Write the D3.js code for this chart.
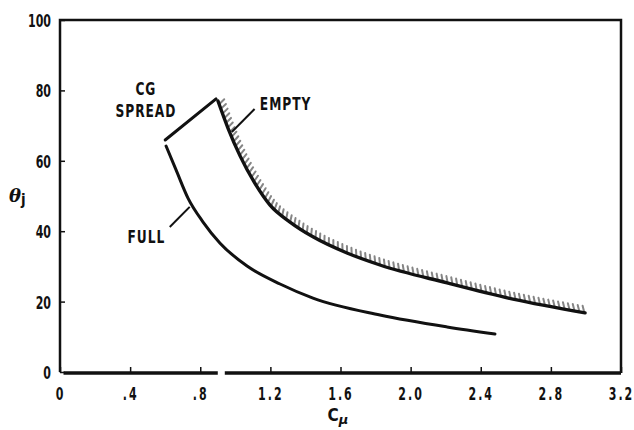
<!DOCTYPE html>
<html>
<head>
<meta charset="utf-8">
<script src="https://cdn.jsdelivr.net/npm/d3@7"></script>
<style>
  body { margin: 0; background: #fff; }
  text { font-family: "DejaVu Sans Condensed", "DejaVu Sans", sans-serif; font-weight: bold; fill: #111; }
</style>
</head>
<body>
<div id="chart"></div>
<script>
// values (C_mu vs theta_j)
const fullCmu   = [0.605, 0.662, 0.730, 0.816, 0.913, 1.067, 1.255, 1.443, 1.825, 2.208, 2.481];
const fullTheta = [64.2, 57.4, 49.4, 42.6, 36.6, 30.1, 25.0, 21.0, 16.2, 12.8, 10.8];

const emptyCmu   = [0.901, 0.958, 1.027, 1.107, 1.198, 1.312, 1.443, 1.637, 1.825, 2.208, 2.584, 2.995];
const emptyTheta = [77.0, 69.3, 61.4, 54.0, 47.4, 42.6, 38.4, 33.8, 30.4, 25.3, 20.7, 16.8];

const cgCmu   = [0.60, 0.89];
const cgTheta = [65.9, 77.6];

const xTicks = [0, 0.4, 0.8, 1.2, 1.6, 2.0, 2.4, 2.8, 3.2];
const xTickLabels = ["0", ".4", ".8", "1.2", "1.6", "2.0", "2.4", "2.8", "3.2"];
const yTicks = [0, 20, 40, 60, 80, 100];

const width = 634, height = 430;
const SX = 0.68;   // horizontal squeeze for the narrow lettering
const LX = 0.8;

const svg = d3.select("#chart").append("svg")
    .attr("width", width)
    .attr("height", height);

const x = d3.scaleLinear().domain([0, 3.2]).range([60, 621]);
const y = d3.scaleLinear().domain([0, 100]).range([372, 20]);

// frame: left, top, right
svg.append("path")
    .attr("d", `M${x(0)},${y(0)}V${y(100)}H${x(3.2)}V${y(0) + 1}`)
    .attr("fill", "none")
    .attr("stroke", "#111")
    .attr("stroke-width", 2.5);

// bottom axis line, with the little break near .9
const gap = [0.90, 0.94];
[[0.02, gap[0]], [gap[1], 3.2]].forEach(([a, b]) => {
    svg.append("line")
        .attr("x1", x(a)).attr("x2", x(b))
        .attr("y1", y(0) + 1).attr("y2", y(0) + 1)
        .attr("stroke", "#111")
        .attr("stroke-width", 3.5);
});

// y axis: ticks point inward
const yAxis = svg.append("g")
    .attr("transform", `translate(${x(0)},0)`)
    .call(d3.axisLeft(y).tickValues(yTicks).tickSizeInner(-5).tickSizeOuter(0).tickPadding(9));
yAxis.select(".domain").remove();
yAxis.selectAll(".tick line").attr("stroke", "#111").attr("stroke-width", 1.5);
yAxis.selectAll(".tick text")
    .attr("font-size", 18).attr("fill", "#111").attr("font-family", null)
    .attr("x", -9 / SX).attr("transform", `scale(${SX},1)`)
    .attr("dy", "0.36em");

// x axis: ticks point up
const xAxis = svg.append("g")
    .attr("transform", `translate(0,${y(0) + 1})`)
    .call(d3.axisBottom(x).tickValues(xTicks)
        .tickFormat((d, i) => xTickLabels[i])
        .tickSizeInner(-6).tickSizeOuter(0).tickPadding(14));
xAxis.select(".domain").remove();
xAxis.selectAll(".tick line").attr("stroke", "#111").attr("stroke-width", 1.5);
xAxis.selectAll(".tick text")
    .attr("font-size", 18).attr("fill", "#111").attr("font-family", null)
    .attr("letter-spacing", 3).attr("transform", `scale(${SX},1)`);

// axis titles
const yTitle = svg.append("text")
    .attr("x", 9).attr("y", 202);
yTitle.append("tspan").text("θ")
    .attr("font-family", "DejaVu Serif")
    .attr("font-style", "italic")
    .attr("font-size", 18);
yTitle.append("tspan").text("j")
    .attr("font-size", 15)
    .attr("dy", 3);

const xTitle = svg.append("text")
    .attr("x", 338).attr("y", 421)
    .attr("text-anchor", "middle");
xTitle.append("tspan").text("C").attr("font-size", 17);
xTitle.append("tspan").text("μ")
    .attr("font-family", "DejaVu Sans")
    .attr("font-style", "italic")
    .attr("font-size", 13)
    .attr("dy", 3);

// curves
const line = d3.line()
    .x(d => x(d[0]))
    .y(d => y(d[1]))
    .curve(d3.curveMonotoneX);

const fullPts = fullCmu.map((c, i) => [c, fullTheta[i]]);
const emptyPts = emptyCmu.map((c, i) => [c, emptyTheta[i]]);
const cgPts = cgCmu.map((c, i) => [c, cgTheta[i]]);

// hatching on the outer side of the EMPTY limit (drawn first, under the line)
const hatch = svg.append("g")
    .attr("stroke", "#858585")
    .attr("stroke-width", 2)
    .attr("stroke-linecap", "round");

const curves = svg.append("g")
    .attr("fill", "none")
    .attr("stroke", "#111")
    .attr("stroke-linecap", "round");

curves.append("path").attr("d", line(fullPts)).attr("stroke-width", 3);
const emptyPath = curves.append("path").attr("d", line(emptyPts)).attr("stroke-width", 3.4);
curves.append("path").attr("d", d3.line().x(d => x(d[0])).y(d => y(d[1]))(cgPts)).attr("stroke-width", 3);

const node = emptyPath.node();
const total = node.getTotalLength();
for (let s = 3; s < total - 1; s += 5) {
    const p = node.getPointAtLength(s);
    const p0 = node.getPointAtLength(Math.max(0, s - 0.5));
    const p1 = node.getPointAtLength(Math.min(total, s + 0.5));
    let tx = p1.x - p0.x, ty = p1.y - p0.y;
    const len = Math.hypot(tx, ty) || 1;
    tx /= len; ty /= len;
    const nx = ty, ny = -tx; // normal toward upper right
    hatch.append("line")
        .attr("x1", p.x + nx * 1).attr("y1", p.y + ny * 1)
        .attr("x2", p.x + nx * 6.5 - tx * 2.5).attr("y2", p.y + ny * 6.5 - ty * 2.5);
}

// labels and leaders
const labels = svg.append("g").attr("font-size", 17).attr("letter-spacing", 1.2);
function label(cx, cy, txt, anchor) {
    labels.append("text")
        .attr("x", x(cx) / LX).attr("y", y(cy)).attr("dy", "0.36em")
        .attr("transform", `scale(${LX},1)`)
        .attr("text-anchor", anchor)
        .text(txt);
}
label(0.49, 80.3, "CG", "middle");
label(0.49, 74.1, "SPREAD", "middle");
label(1.14, 76.3, "EMPTY", "start");
label(0.60, 38.4, "FULL", "end");

const leaders = svg.append("g").attr("stroke", "#111").attr("stroke-width", 2);
leaders.append("line")
    .attr("x1", x(0.98)).attr("y1", y(68.2))
    .attr("x2", x(1.11)).attr("y2", y(74.7));
leaders.append("line")
    .attr("x1", x(0.626)).attr("y1", y(41.2))
    .attr("x2", x(0.74)).attr("y2", y(46.9));
</script>
</body>
</html>
